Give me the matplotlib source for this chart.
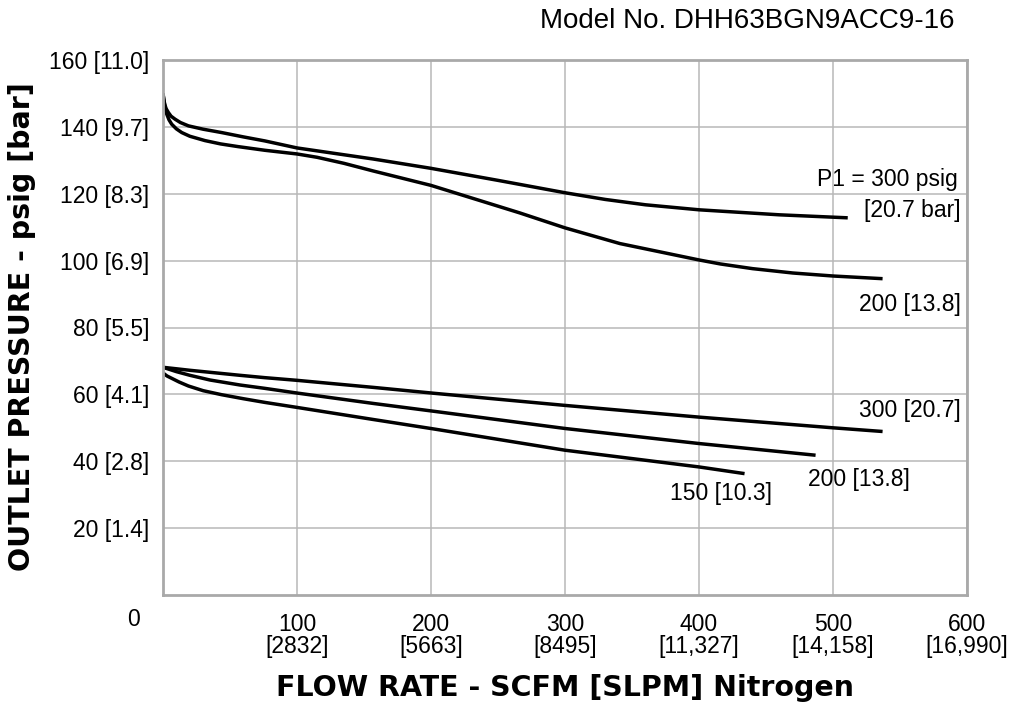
import matplotlib
matplotlib.use("Agg")
import matplotlib.pyplot as plt

# ---- data ----
# upper pair of curves (outlet set ~150 psig)
hi_p300_x = [0, 0.5, 1.2, 2.4, 4, 6, 9, 13, 19, 30, 43.8, 60, 76, 100, 156.7, 200, 250, 300, 330, 360, 400, 460, 511]
hi_p300_y = [150, 148.4, 146.8, 145.4, 144.3, 143.2, 142.3, 141.3, 140.3, 139.3, 138.3, 137.0, 135.8, 133.7, 130.4, 127.6, 124.0, 120.3, 118.3, 116.7, 115.2, 113.7, 112.8]

hi_p200_x = [0, 0.4, 0.8, 1.5, 2.7, 4.5, 6.5, 10, 14, 20, 31.3, 43, 56, 76, 100, 115, 135, 157, 200, 266, 300, 341, 400, 416, 440, 470, 500, 537]
hi_p200_y = [150, 148.8, 147.8, 146.0, 143.9, 142.1, 140.8, 139.4, 138.3, 137.2, 135.9, 134.9, 134.1, 133.0, 131.9, 130.9, 129.1, 126.8, 122.5, 114.3, 109.8, 105.1, 100.2, 99.0, 97.6, 96.3, 95.4, 94.6]

# lower group of curves (outlet set ~68 psig)
lo_p300_x = [0, 20.1, 57.5, 76, 100, 156.7, 203, 300, 400, 500, 537]
lo_p300_y = [68.1, 67.2, 65.7, 65.0, 64.2, 62.1, 60.3, 56.7, 53.2, 50.0, 48.9]

lo_p200_x = [0, 10, 20.1, 35, 57.5, 76, 100, 156.7, 203, 300, 400, 487]
lo_p200_y = [68.1, 66.8, 65.7, 64.3, 62.8, 61.8, 60.4, 57.3, 54.9, 49.8, 45.3, 41.8]

lo_p150_x = [0, 3, 7.5, 12, 19, 30, 43.8, 60, 76, 100, 156.7, 203, 300, 400, 434]
lo_p150_y = [66.4, 65.5, 64.6, 63.7, 62.5, 61.1, 59.9, 58.7, 57.6, 56.1, 52.5, 49.6, 43.3, 38.3, 36.3]

x_ticks = [100, 200, 300, 400, 500, 600]
x_tick_labels = ["100\n[2832]", "200\n[5663]", "300\n[8495]", "400\n[11,327]",
                 "500\n[14,158]", "600\n[16,990]"]
y_ticks = [20, 40, 60, 80, 100, 120, 140, 160]
y_tick_labels = ["20 [1.4]", "40 [2.8]", "60 [4.1]", "80 [5.5]", "100 [6.9]",
                 "120 [8.3]", "140 [9.7]", "160 [11.0]"]

W, H = 1017, 706
fig = plt.figure(figsize=(W / 100, H / 100), dpi=100)
plt.rcParams['font.family'] = ['Liberation Sans', 'DejaVu Sans']

L, R, T, B = 163, 967, 60, 595
ax = fig.add_axes([L / W, 1 - B / H, (R - L) / W, (B - T) / H])
ax.set_xlim(0, 600)
ax.set_ylim(0, 160)

fs = 16.5
ax.set_xticks(x_ticks)
ax.set_xticklabels(x_tick_labels, fontsize=fs, linespacing=0.92)
ax.set_yticks(y_ticks)
ax.set_yticklabels(y_tick_labels, fontsize=fs)
ax.tick_params(axis='both', length=0)
ax.tick_params(axis='y', pad=10)
ax.tick_params(axis='x', pad=13)
ax.grid(True, color='#b8b8b8', linewidth=1.1)
ax.set_axisbelow(True)
for s in ax.spines.values():
    s.set_color('#a9a9a9')
    s.set_linewidth(2.0)

lw = 2.5
for xs, ys in [(hi_p300_x, hi_p300_y), (hi_p200_x, hi_p200_y),
               (lo_p300_x, lo_p300_y), (lo_p200_x, lo_p200_y), (lo_p150_x, lo_p150_y)]:
    ax.plot(xs, ys, color='black', linewidth=lw, solid_capstyle='butt',
            solid_joinstyle='round')

ax.text(593.3, 124.2, "P1 = 300 psig", ha='right', va='center', fontsize=fs)
ax.text(595.5, 114.9, "[20.7 bar]", ha='right', va='center', fontsize=fs)
ax.text(595.5, 86.9, "200 [13.8]", ha='right', va='center', fontsize=fs)
ax.text(595.5, 55.2, "300 [20.7]", ha='right', va='center', fontsize=fs)
ax.text(481.3, 34.6, "200 [13.8]", ha='left', va='center', fontsize=fs)
ax.text(378.4, 30.4, "150 [10.3]", ha='left', va='center', fontsize=fs)

# zero label at the corner
fig.text(134 / W, 1 - 619 / H, "0", ha='center', va='center', fontsize=fs)

# model number
fig.text(955 / W, 1 - 21.5 / H, "Model No. DHH63BGN9ACC9-16", ha='right', va='center',
         fontsize=20)

# axis titles
fig.text(565 / W, 1 - 688 / H, "FLOW RATE - SCFM [SLPM] Nitrogen", ha='center',
         va='center', fontsize=20.5, fontweight='bold', family='DejaVu Sans')
fig.text(22 / W, 1 - 327 / H, "OUTLET PRESSURE - psig [bar]", ha='center',
         va='center', rotation=90, fontsize=20.5, fontweight='bold', family='DejaVu Sans')

fig.savefig("out.png", dpi=100)
